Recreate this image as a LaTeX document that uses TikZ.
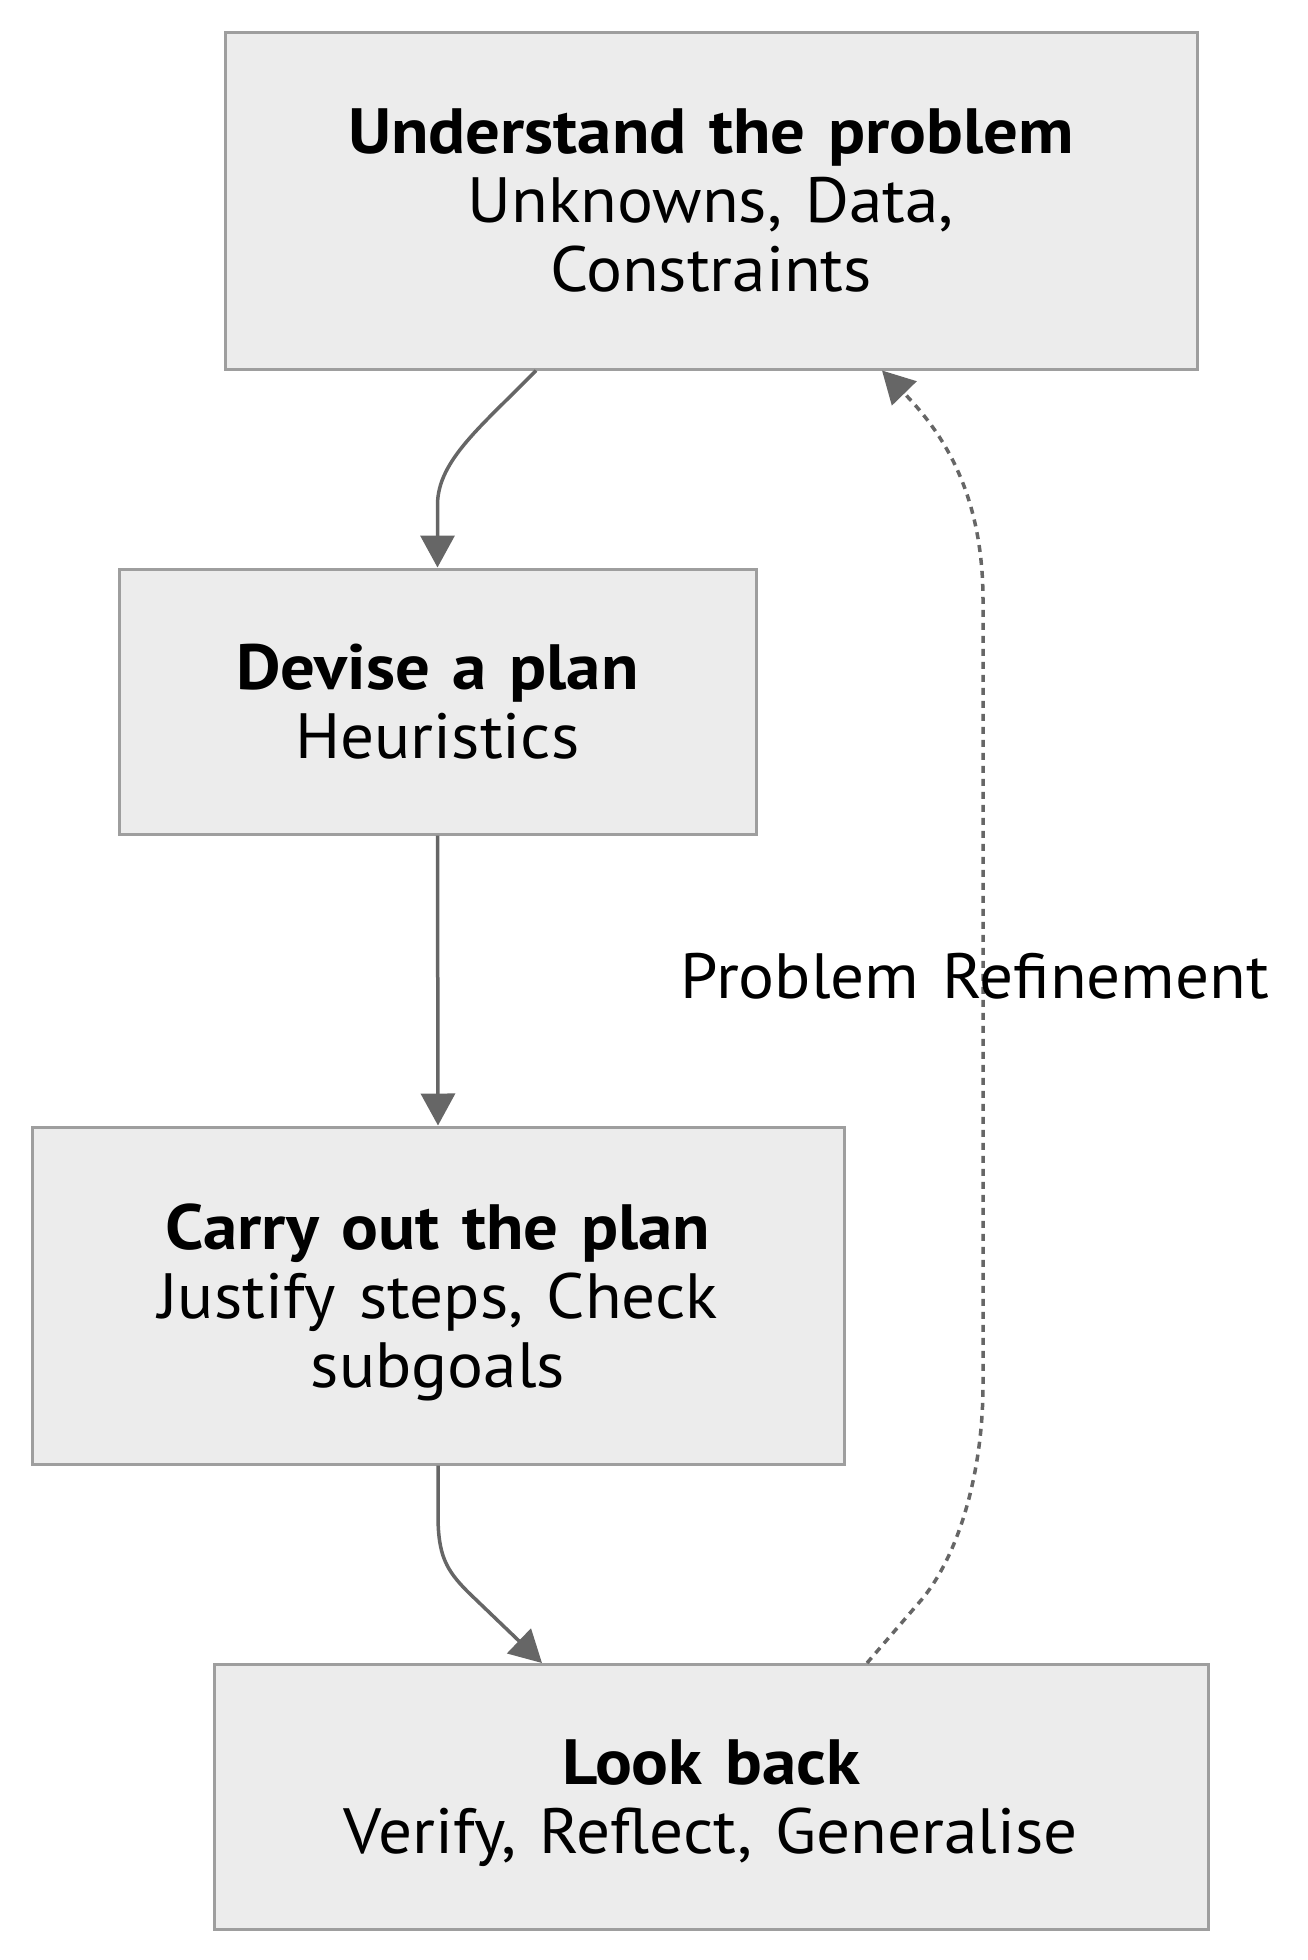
\documentclass[tikz,border=0pt]{standalone}
\usepackage{fontspec}
\setmainfont{PT Sans}[FakeStretch=1.05, WordSpace=1.3, BoldFeatures={FakeStretch=1.075}]
\usetikzlibrary{arrows.meta,calc}
\definecolor{boxfill}{HTML}{ECECEC}
\definecolor{boxline}{HTML}{9E9E9E}
\definecolor{edgecol}{HTML}{666666}
\begin{document}
\begin{tikzpicture}[x=1pt,y=-1pt,
  box/.style={draw=boxline, fill=boxfill, line width=3pt, inner sep=0pt, align=center,
    text depth=0pt, font=\fontsize{64}{69}\selectfont},
  flow/.style={draw=edgecol, line width=3.5pt, -{Triangle[length=32pt,width=34pt]}},
  back/.style={flow, dash pattern=on 7pt off 6pt}]
\useasboundingbox (0,0) rectangle (1308,1960);
\node[box, minimum width=972pt, minimum height=337pt] (u) at (711,200.5)
  {\textbf{Understand the problem}\\Unknowns, Data,\\Constraints};
\node[box, minimum width=637pt, minimum height=265pt] (d) at (437.5,701.5)
  {\textbf{Devise a plan}\\Heuristics};
\node[box, minimum width=812pt, minimum height=337pt] (c) at (438,1295.5)
  {\textbf{Carry out the plan}\\Justify steps, Check\\subgoals};
\node[box, minimum width=994pt, minimum height=265pt] (l) at (711,1797)
  {\textbf{Look back}\\Verify, Reflect, Generalise};
\draw[flow] ($(u.south)+(-175,0)$) .. controls (483,425) and (437.5,460) .. (437.5,505) -- (d.north);
\draw[flow] (d.south) -- (c.north);
\draw[flow] (c.south) -- (438,1515) .. controls (438,1555) and (446,1570) .. (468,1592) -- ($(l.north)+(-169,0)$);
\draw[back] ($(l.north)+(156,0)$) -- (923,1598) .. controls (960,1552) and (983,1470) .. (983,1385)
  -- (983,600) .. controls (983,490) and (940,430) .. ($(u.south)+(171,0)$);
\node[font=\fontsize{64}{69}\selectfont, inner sep=0pt] (r) at (975,976) {Problem Refinement};
\end{tikzpicture}
\end{document}
